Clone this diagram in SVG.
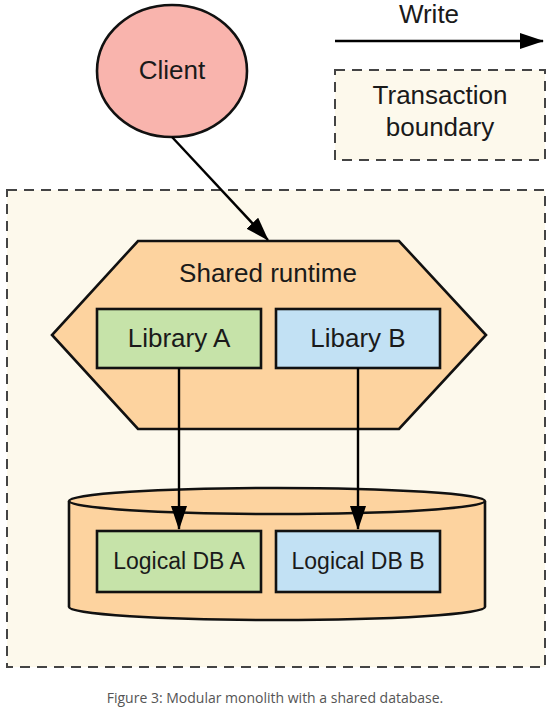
<svg xmlns="http://www.w3.org/2000/svg" width="550" height="712" viewBox="0 0 550 712">
<style>
text{font-family:"Liberation Sans",Arial,sans-serif;fill:#1a1a1a;text-anchor:middle}
.t26{font-size:26px}
.t23{font-size:23px}
.dash{fill:#fdf9ec;stroke:#444;stroke-width:2;stroke-dasharray:10 7}
.sh{stroke:#111;stroke-width:2.6}
.edge{stroke:#000;stroke-width:2.4;fill:none;marker-end:url(#ah)}
.cap{font-family:"Open Sans","Noto Sans",sans-serif;font-size:14px;fill:#555}
</style>
<defs>
<marker id="ah" markerUnits="userSpaceOnUse" markerWidth="24" markerHeight="16" refX="23" refY="8" orient="auto">
<path d="M0,0 L24,8 L0,16 Z" fill="#000"/>
</marker>
</defs>
<g id="boundary">
<rect class="dash" x="7" y="190" width="538" height="477"/>
</g>
<g id="legend-write">
<text class="t26" x="429" y="23">Write</text>
<line class="edge" x1="335" y1="41" x2="543" y2="41"/>
</g>
<g id="legend-transaction">
<rect class="dash" x="335" y="70" width="210" height="90"/>
<text class="t26" x="440" y="104">Transaction</text>
<text class="t26" x="440" y="136">boundary</text>
</g>
<g id="client">
<ellipse class="sh" cx="172" cy="71" rx="75" ry="66" fill="#f9b4ad"/>
<text class="t26" x="172" y="79">Client</text>
</g>
<g id="shared-runtime">
<polygon class="sh" points="138,241 399,241 486,335 399,429 138,429 52,335" fill="#fdd39f"/>
<text class="t26" x="268" y="282">Shared runtime</text>
</g>
<g id="library-a">
<rect class="sh" x="97" y="309" width="164" height="59" fill="#c6e3a9"/>
<text class="t26" x="179" y="347">Library A</text>
</g>
<g id="library-b">
<rect class="sh" x="276" y="309" width="164" height="59" fill="#c2e1f4"/>
<text class="t26" x="358" y="347">Libary B</text>
</g>
<g id="database">
<path class="sh" d="M69,501 L69,607 A208,13 0 0 0 485,607 L485,501 A208,13 0 0 0 69,501 Z" fill="#fdd39f"/>
<path class="sh" d="M69,501 A208,13 0 0 0 485,501" fill="none"/>
</g>
<g id="logical-db-a">
<rect class="sh" x="97" y="531" width="164" height="61" fill="#c6e3a9"/>
<text class="t23" x="179" y="569">Logical DB A</text>
</g>
<g id="logical-db-b">
<rect class="sh" x="276" y="531" width="164" height="61" fill="#c2e1f4"/>
<text class="t23" x="358" y="569">Logical DB B</text>
</g>
<g id="connectors">
<line class="edge" x1="172" y1="137" x2="268" y2="240"/>
<line class="edge" x1="179" y1="368" x2="179" y2="529"/>
<line class="edge" x1="358" y1="368" x2="358" y2="529"/>
</g>
<text class="cap" x="275" y="703">Figure 3: Modular monolith with a shared database.</text>
</svg>
